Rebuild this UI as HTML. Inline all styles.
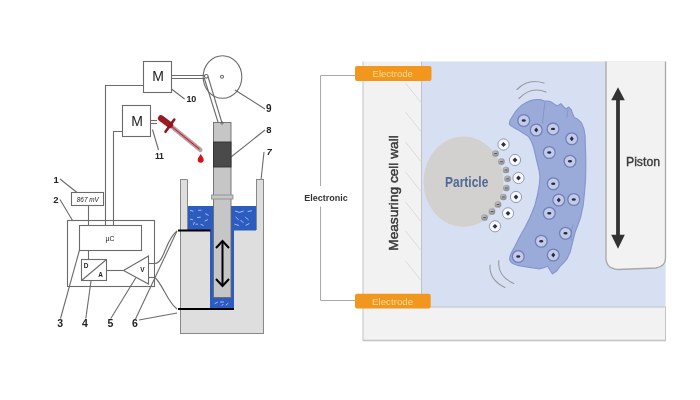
<!DOCTYPE html>
<html><head><meta charset="utf-8">
<style>
html,body{margin:0;padding:0;background:#fff;}
body{width:700px;height:400px;overflow:hidden;}
svg{display:block;filter:blur(0.3px);}
text{font-family:"Liberation Sans",sans-serif;}
</style></head>
<body>
<svg width="700" height="400" viewBox="0 0 700 400">
<rect width="700" height="400" fill="#fff"/>

<!-- ========== LEFT DIAGRAM ========== -->
<g fill="none" stroke="#6b6b6b" stroke-width="1.1">
  <!-- top M box -->
  <rect x="143.5" y="61.5" width="28" height="31" fill="#fff"/>
  <!-- second M box -->
  <rect x="122.5" y="105.5" width="28" height="31" fill="#fff"/>
  <!-- wires to controller -->
  <polyline points="143.5,85.5 105.5,85.5 105.5,225.5"/>
  <polyline points="122.5,131.5 113.5,131.5 113.5,225.5"/>
  <!-- double shaft top M to wheel -->
  <line x1="171.5" y1="75.5" x2="205" y2="75.5"/>
  <line x1="171.5" y1="78.5" x2="205" y2="78.5"/>
  <!-- short double shaft M2 -->
  <line x1="150.5" y1="120.5" x2="157" y2="120.5"/>
  <line x1="150.5" y1="123.5" x2="157" y2="123.5"/>
  <!-- outer box 2 -->
  <rect x="67.5" y="220.5" width="87" height="66"/>
  <!-- uC box -->
  <rect x="79.5" y="225.5" width="62" height="25" fill="#fff"/>
  <!-- display box -->
  <rect x="71.5" y="192.5" width="32" height="13" fill="#fff"/>
  <line x1="88.5" y1="205.5" x2="88.5" y2="225.5"/>
  <!-- D/A box -->
  <rect x="81.5" y="259.5" width="25" height="21" fill="#fff"/>
  <line x1="81.5" y1="280.5" x2="106.5" y2="259.5"/>
  <line x1="88.5" y1="250.5" x2="88.5" y2="259.5"/>
  <line x1="106.5" y1="270.5" x2="123.5" y2="270.5"/>
  <!-- amplifier -->
  <polygon points="123.5,270.5 148.5,256 148.5,284" fill="#fff"/>
  <line x1="148.5" y1="263.5" x2="155" y2="263.5"/>
  <line x1="148.5" y1="277.5" x2="155" y2="277.5"/>
  <!-- wires from amp to electrodes -->
  <path d="M155,263.5 C165,262 165,240 177,231"/>
  <path d="M155,277.5 C163,285 168,303 177,309"/>
  <!-- label leader lines -->
  <line x1="60" y1="179" x2="77" y2="192.5"/>
  <line x1="60" y1="199.5" x2="72.5" y2="220.5"/>
  <line x1="60.5" y1="318.5" x2="79.5" y2="250"/>
  <line x1="85.8" y1="318.5" x2="91" y2="281"/>
  <line x1="110.8" y1="318.5" x2="136" y2="277.5"/>
  <line x1="135.5" y1="319" x2="177" y2="231"/>
  <line x1="139" y1="320" x2="177" y2="313"/>
  <line x1="171.5" y1="89" x2="184.6" y2="99"/>
  <line x1="152.5" y1="129.5" x2="158.5" y2="150"/>
  <line x1="235" y1="90" x2="265" y2="109"/>
  <line x1="265" y1="130" x2="231" y2="157"/>
  <line x1="264" y1="152" x2="261" y2="180"/>
  <!-- wheel -->
  <ellipse cx="222.5" cy="77" rx="19.3" ry="21.3"/>
  <circle cx="222" cy="76.8" r="1.5"/>
  <circle cx="206.3" cy="76.3" r="1.8"/>
  <!-- connecting rod -->
  <line x1="204.5" y1="79" x2="218.3" y2="123"/>
  <line x1="208" y1="76.5" x2="222" y2="123"/>
</g>

<!-- beaker -->
<g>
  <!-- outer -->
  <rect x="180.5" y="179.5" width="83" height="154" fill="#dedede" stroke="#888" stroke-width="1"/>
  <!-- inner white above water -->
  <rect x="187.5" y="179" width="68.5" height="27.5" fill="#fff"/>
  <!-- water -->
  <rect x="187.5" y="206" width="68.5" height="24.5" fill="#2c5cbf"/>
  <!-- channel -->
  <rect x="210" y="229" width="24" height="79" fill="#2c5cbf"/>
  <line x1="187.5" y1="179.5" x2="187.5" y2="230" stroke="#888"/>
  <line x1="256.5" y1="179.5" x2="256.5" y2="230" stroke="#888"/>
  <!-- thick black lines -->
  <line x1="178" y1="230.5" x2="210.5" y2="230.5" stroke="#000" stroke-width="2"/>
  <line x1="178" y1="309" x2="234" y2="309" stroke="#000" stroke-width="2"/>
  <!-- piston rod -->
  <rect x="213.5" y="122.5" width="17.5" height="175" fill="#c6c6c6" stroke="#6a6a6a" stroke-width="0.9"/>
  <rect x="213.5" y="142" width="17.5" height="25" fill="#4a4a4a" stroke="#303030" stroke-width="0.9"/>
  <rect x="211.5" y="195" width="21.5" height="4" fill="#c6c6c6" stroke="#888" stroke-width="0.8"/>
  <circle cx="222" cy="123" r="1.2" fill="none" stroke="#555" stroke-width="0.8"/>
  <!-- double arrow -->
  <g stroke="#000" stroke-width="2" fill="none">
    <line x1="222.5" y1="241" x2="222.5" y2="286"/>
    <polyline points="216,248 222.5,241 229,248"/>
    <polyline points="216,279 222.5,286 229,279"/>
  </g>
</g>

<!-- dropper -->
<g>
  <line x1="171" y1="126" x2="200.5" y2="150" stroke="#a9a9a9" stroke-width="4.2" stroke-linecap="round"/>
  <line x1="171" y1="126" x2="199.5" y2="149.2" stroke="#e07a86" stroke-width="2.2"/>
  <line x1="171" y1="126" x2="199.5" y2="149.2" stroke="#b8202e" stroke-width="1"/>
  <line x1="161" y1="118.3" x2="170" y2="125" stroke="#9a1a24" stroke-width="6.2" stroke-linecap="round"/>
  <line x1="165.5" y1="131.8" x2="174.3" y2="119.5" stroke="#8e1620" stroke-width="2.6" stroke-linecap="round"/>
  <path d="M200.7,154 C199.2,156.5 197.7,158.3 197.7,159.7 a3,3 0 0 0 6,0 C203.7,158.3 202.2,156.5 200.7,154 Z" fill="#d3121c"/>
</g>

<!-- water speckles -->
<g stroke="#c8d6f2" stroke-width="0.8" fill="none" stroke-linecap="round">
  <path d="M190.5,210.5 l2.5,0.6"/>
  <path d="M198.5,210.3 l2.5,0"/>
  <path d="M205.5,213.8 l2.8,1.4"/>
  <path d="M197.5,217.5 l2.8,-0.3"/>
  <path d="M190.5,219.2 l2,0.5"/>
  <path d="M205,221 l2.5,-1.2"/>
  <path d="M193.5,224.5 l0.8,-2.2"/>
  <path d="M196,224.2 l1.5,0"/>
  <path d="M201,224.5 l2.2,0.8"/>
  <path d="M235.4,211.2 q4,2.5 8,0"/>
  <path d="M248,211.4 l3.5,-0.5"/>
  <path d="M235.8,217.2 l2.6,2.4"/>
  <path d="M245.5,217.4 l2.8,2.2"/>
  <path d="M240.8,220.3 l2.4,2.4"/>
  <path d="M234.8,224.2 l3.8,1.2"/>
  <path d="M246,225.2 l3,-1.5"/>
  <path d="M215,303.5 l2.5,-1.3"/>
  <path d="M220.5,302 l3,0"/>
  <path d="M226,305 l2,-1.5"/>
  <path d="M222,305.5 l1,-1.2"/>
</g>

<!-- labels -->
<g font-weight="bold" font-size="9" fill="#222">
  <text x="53.6" y="182.5" font-size="9.5">1</text>
  <text x="53.3" y="203" font-size="9.5">2</text>
  <text x="57.3" y="327" font-size="10.5">3</text>
  <text x="82" y="327" font-size="10.5">4</text>
  <text x="107.6" y="327" font-size="10.5">5</text>
  <text x="132" y="327" font-size="10.5">6</text>
  <text x="186.6" y="101.5" letter-spacing="-0.4">10</text>
  <text x="266" y="112" font-size="10">9</text>
  <text x="266.2" y="133" font-size="9.5">8</text>
  <text x="266.8" y="154.5" font-style="italic">7</text>
  <text x="155" y="158.6" font-size="8.7" letter-spacing="-0.4">11</text>
</g>
<g fill="#222">
  <text x="158" y="81.3" font-size="14" text-anchor="middle">M</text>
  <text x="137" y="125.5" font-size="14" text-anchor="middle">M</text>
  <text x="87.8" y="202" font-size="6.4" font-style="italic" text-anchor="middle">867 mV</text>
  <text x="110" y="241" font-size="6.8" text-anchor="middle">µC</text>
  <text x="86" y="267.5" font-size="6.5" font-weight="bold" text-anchor="middle">D</text>
  <text x="100.7" y="277.2" font-size="6.5" font-weight="bold" text-anchor="middle">A</text>
  <text x="142.4" y="272.4" font-size="6.5" font-weight="bold" text-anchor="middle">V</text>
</g>

<!-- ========== RIGHT DIAGRAM ========== -->
<g>
  <!-- cell body -->
  <rect x="363" y="61.5" width="302.5" height="279" fill="#f2f2f2"/>
  <!-- blue liquid -->
  <rect x="422" y="61.5" width="243.5" height="245.5" fill="#d7e0f2"/>
  <g stroke="#c2c2c6" stroke-width="1" fill="none">
    <line x1="363" y1="61.5" x2="363" y2="341"/>
    <line x1="421.5" y1="61.5" x2="421.5" y2="307"/>
    <line x1="363" y1="307" x2="666" y2="307"/>
    <line x1="665.5" y1="307" x2="665.5" y2="341"/>
    <line x1="363" y1="340.5" x2="666" y2="340.5" stroke-width="1.5"/>
  </g>
  <!-- piston -->
  <path d="M606,61.5 L606,258 Q606,268.5 618,269.5 L656,268 Q665.5,266.5 665.5,258 L665.5,61.5" fill="#f2f2f2" stroke="#a8a8a8" stroke-width="1.3"/>
  <!-- hatch -->
  <g stroke="#d6d6d6" stroke-width="0.8">
    <line x1="405.5" y1="83" x2="421" y2="102.5"/>
    <line x1="405.5" y1="112" x2="421" y2="131.5"/>
    <line x1="405.5" y1="142" x2="421" y2="161.5"/>
    <line x1="405.5" y1="172" x2="421" y2="191.5"/>
    <line x1="405.5" y1="202" x2="421" y2="221.5"/>
    <line x1="405.5" y1="231" x2="421" y2="250.5"/>
    <line x1="405.5" y1="261" x2="421" y2="280.5"/>
  </g>
  <!-- wire -->
  <polyline points="355,75.5 320.5,75.5 320.5,186" fill="none" stroke="#a8a8b0" stroke-width="1"/>
  <polyline points="320.5,206.5 320.5,300.5 355,300.5" fill="none" stroke="#a8a8b0" stroke-width="1"/>
  <text x="326" y="201.3" font-size="9" font-weight="bold" fill="#333" text-anchor="middle">Electronic</text>
  <!-- electrodes -->
  <rect x="355" y="66" width="76.5" height="15" rx="2" fill="#f2971d"/>
  <text x="372.5" y="76.6" font-size="9.5" fill="#f6da94" textLength="40.4" lengthAdjust="spacingAndGlyphs">Electrode</text>
  <rect x="355" y="293.8" width="75.7" height="14.8" rx="2" fill="#f2971d"/>
  <text x="372.1" y="304.5" font-size="9.5" fill="#f6dc9a" textLength="41" lengthAdjust="spacingAndGlyphs">Electrode</text>
  <!-- vertical text -->
  <text transform="translate(398,193) rotate(-90)" font-size="13.5" fill="#383838" stroke="#383838" stroke-width="0.45" text-anchor="middle" textLength="115.5" lengthAdjust="spacingAndGlyphs">Measuring cell wall</text>
  <!-- Piston arrow -->
  <g fill="#333">
    <rect x="616.1" y="99" width="3.8" height="137"/>
    <polygon points="618,87.3 611.2,100.2 624.8,100.2"/>
    <polygon points="618,248.8 611.2,234.8 624.8,234.8"/>
  </g>
  <text x="626" y="165.8" font-size="12" fill="#3a3a3a" stroke="#3a3a3a" stroke-width="0.35" textLength="34" lengthAdjust="spacingAndGlyphs">Piston</text>
  <!-- blob -->
  <path d="M509.3,124.1 L510.2,120 L512.3,116.9 L515,112.5 L518.4,108.4 L521.8,105.3 L525.6,102.9 L529,101.2 L532.9,100.1 L536.5,99.6 L540.2,99.6 L543.9,100.8 L546.9,101.1 L550.5,101.7 L554.2,104.1 L557.2,105.9 L560.9,103.7 L563.3,106.5 L565.7,109 L568.8,107.1 L571.2,109.6 L572.4,113.2 L574.2,117.5 L577.9,119.3 L581.5,122.9 L583.9,129 L585.1,136.3 L585.3,145 L585.6,152.5 L585.8,165 L585.5,180 L584.5,192.5 L583.2,205 L580.5,217.5 L577.8,225 L575,232.5 L572.5,242.5 L570,252.5 L567,258.8 L563.8,262.5 L560,266.3 L556.3,271.3 L552.5,273.8 L550.2,270.5 L547.5,266.3 L544,267.6 L540,268.8 L532.5,267.8 L525,266.6 L517.5,265.3 L512.5,263.5 L510.2,261 L509.6,258.8 L510.3,255.5 L511.5,252.5 L515,246.3 L520,236.3 L525,227.5 L530,217.5 L535,205 L537.5,195 L539.3,185 L540,177 L539,170 L537.3,163 L535.5,155 L533.5,147 L531.5,141.5 L528.5,136.5 L523,133 L518.8,130.2 L514,127.6 L511,125.8 Z" fill="#9aabd9" stroke="#8797cf" stroke-width="1.2" stroke-linejoin="round"/>
  <g stroke="#7d8fc8" stroke-width="0.8" fill="none" stroke-linecap="round">
    <path d="M545,102.5 Q543.5,112 542.6,123"/>
    <path d="M568,109.6 L567,117"/>
    <path d="M573,225 Q570,232 571,240"/>
  </g>
  <!-- sound waves -->
  <g fill="none" stroke="#9a9a9e" stroke-width="1.1" stroke-linecap="round">
    <path d="M517,89.5 Q528,78 544,83"/>
    <path d="M519,98.5 Q531,86 546,92"/>
    <path d="M498.8,260.6 Q497,276 513.8,283.5"/>
    <path d="M490,265 Q489,280 505,287.5"/>
  </g>
  <!-- particle -->
  <ellipse cx="463.5" cy="181.75" rx="40" ry="45.25" fill="#d2d1cf"/>
  <text x="445.1" y="186.9" font-size="14" font-weight="bold" fill="#4e6a94" textLength="43.2" lengthAdjust="spacingAndGlyphs">Particle</text>
  <defs>
    <g id="ineg"><circle r="5.9" fill="#c3cbe9" stroke="#7180b6" stroke-width="1.3"/><ellipse rx="2.1" ry="1.2" fill="#262a4a"/></g>
    <g id="ipos"><circle r="5.9" fill="#c3cbe9" stroke="#7180b6" stroke-width="1.3"/><path d="M0,-2.5 L2,0 L0,2.5 L-2,0 Z" fill="#262a4a"/></g>
    <g id="wpos"><circle r="5.6" fill="#f8f9fd" stroke="#939ab6" stroke-width="1"/><path d="M0,-2.4 L2.4,0 L0,2.4 L-2.4,0 Z" fill="#2a2e48"/></g>
    <radialGradient id="gsph" cx="0.4" cy="0.35" r="0.7"><stop offset="0" stop-color="#c0c0c0"/><stop offset="1" stop-color="#858588"/></radialGradient>
    <g id="sneg"><circle r="3.3" fill="url(#gsph)"/><rect x="-1.3" y="-0.5" width="2.6" height="1" fill="#555"/></g>
  </defs>
  <!-- blob ions -->
  <use href="#ineg" x="523.75" y="120.5"/>
  <use href="#ipos" x="536.25" y="130"/>
  <use href="#ineg" x="553" y="128.9"/>
  <use href="#ipos" x="571.75" y="138.75"/>
  <use href="#ineg" x="549.25" y="152.5"/>
  <use href="#ineg" x="570" y="161.25"/>
  <use href="#ineg" x="553.25" y="183.75"/>
  <use href="#ipos" x="558.75" y="200"/>
  <use href="#ineg" x="573.75" y="199.5"/>
  <use href="#ineg" x="549.25" y="213.25"/>
  <use href="#ineg" x="565.5" y="233.25"/>
  <use href="#ineg" x="541.25" y="241.25"/>
  <use href="#ineg" x="518.25" y="256.5"/>
  <use href="#ipos" x="553.25" y="255"/>
  <!-- particle surface negative charges -->
  <use href="#sneg" x="495.5" y="153.5"/>
  <use href="#sneg" x="501.4" y="161.6"/>
  <use href="#sneg" x="506" y="170"/>
  <use href="#sneg" x="507.5" y="178.8"/>
  <use href="#sneg" x="506.3" y="188"/>
  <use href="#sneg" x="503.3" y="197"/>
  <use href="#sneg" x="498" y="204.5"/>
  <use href="#sneg" x="492" y="211.5"/>
  <use href="#sneg" x="484.5" y="217.5"/>
  <!-- diffuse positive ions -->
  <use href="#wpos" x="503.5" y="144.5"/>
  <use href="#wpos" x="515" y="160"/>
  <use href="#wpos" x="518.5" y="178"/>
  <use href="#wpos" x="516" y="197"/>
  <use href="#wpos" x="508" y="213.3"/>
  <use href="#wpos" x="495" y="226.3"/>
</g>
</svg>
</body></html>
